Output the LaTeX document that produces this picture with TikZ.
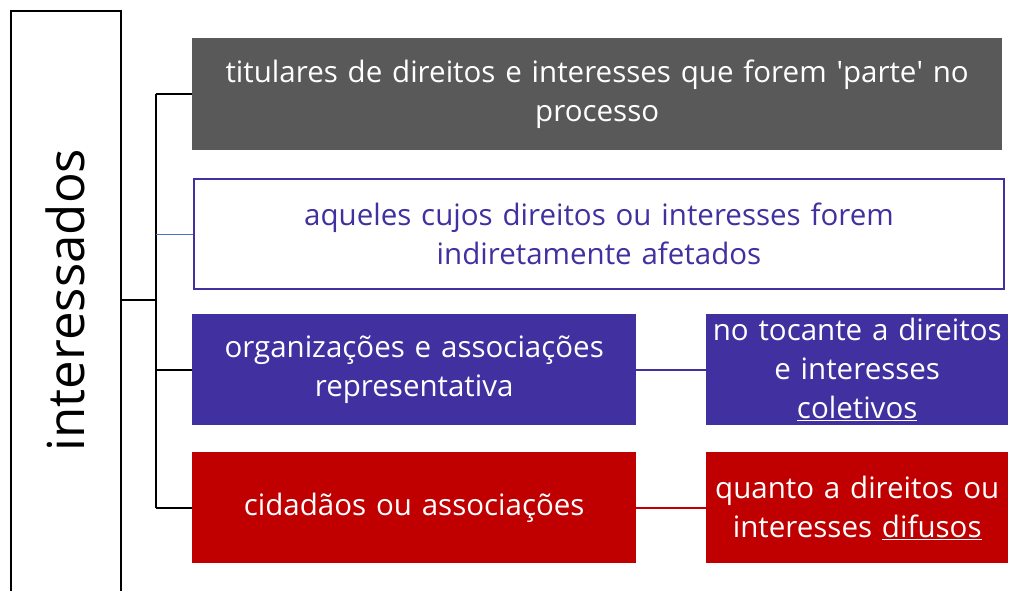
\documentclass[tikz,border=0pt]{standalone}
\usepackage{fontspec}
\setmainfont{Open Sans}[Ligatures=NoCommon]
\definecolor{cinza}{RGB}{89,89,89}
\definecolor{roxo}{RGB}{64,48,160}
\definecolor{vermelho}{RGB}{192,0,0}
\definecolor{azul}{RGB}{68,114,196}
\tikzset{
  caixa/.style={anchor=north west, inner sep=2pt, align=center, font=\fontsize{29.5}{39}\selectfont},
  ramo/.style={line width=2pt, draw=black},
}
\begin{document}
\begin{tikzpicture}[x=1pt, y=-1pt]
            \useasboundingbox (0,0) rectangle (1009,590);
            \clip (0,0) rectangle (1009,590);
            \node[draw, line width=2pt, anchor=north west, minimum width=110pt, minimum height=600pt] (int) at (10,10) {};
            \node[rotate=90, font=\fontsize{51}{56}\selectfont] (intlab) at (65,300) {interessados};
            \node[caixa, fill=cinza, text=white, minimum width=810pt, minimum height=112pt, text width=800pt] (tit) at (192,38) {titulares de direitos e interesses que forem \textquotesingle parte\textquotesingle\ no\\processo};
            \node[caixa, draw=roxo, line width=2pt, text=roxo, minimum width=810pt, minimum height=110pt, text width=790pt] (aqu) at (193,178) {aqueles cujos direitos ou interesses forem\\indiretamente afetados};
            \node[caixa, fill=roxo, text=white, minimum width=444pt, minimum height=111pt, text width=436pt] (org) at (192,314) {organizações e associações\\representativa};
            \node[caixa, fill=roxo, text=white, minimum width=302pt, minimum height=111pt, text width=298pt] (col) at (706,314) {no tocante a direitos\\e interesses\\\underline{coletivos}};
            \node[caixa, fill=vermelho, text=white, minimum width=444pt, minimum height=111pt, text width=436pt] (cid) at (192,452) {cidadãos ou associações};
            \node[caixa, fill=vermelho, text=white, minimum width=302pt, minimum height=111pt, text width=298pt] (dif) at (706,452) {quanto a direitos ou\\interesses \underline{difusos}};
            \coordinate (eixo) at (156,300);
            \draw[ramo] (int.east |- eixo) -- (eixo);
            \draw[ramo] (eixo |- tit.west) -- (eixo |- cid.west);
            \draw[ramo] (eixo |- tit.west) -- (tit.west);
            \draw[line width=1pt, azul] (eixo |- aqu.west) -- (aqu.west);
            \draw[ramo] (eixo |- org.west) -- (org.west);
            \draw[ramo] (eixo |- cid.west) -- (cid.west);
            \draw[line width=2pt, roxo] (org.east) -- (col.west);
            \draw[line width=2pt, vermelho] (cid.east) -- (dif.west);
        \end{tikzpicture}
\end{document}
